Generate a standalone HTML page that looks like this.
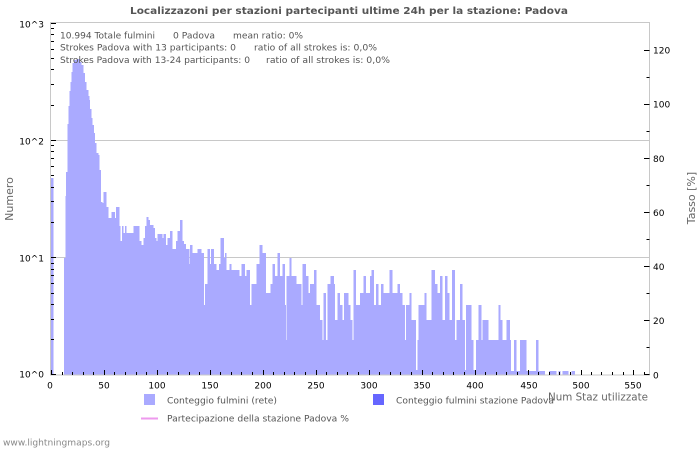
<!DOCTYPE html>
<html><head><meta charset="utf-8"><style>
html,body{margin:0;padding:0;background:#fff;}
svg{display:block;font-family:"DejaVu Sans","Liberation Sans",sans-serif;}
</style></head><body>
<svg width="700" height="450" viewBox="0 0 700 450" xmlns="http://www.w3.org/2000/svg">
<rect width="700" height="450" fill="#fff"/>
<!-- title -->
<text x="130" y="14" font-size="10" font-weight="bold" fill="#555" textLength="438" lengthAdjust="spacingAndGlyphs">Localizzazoni per stazioni partecipanti ultime 24h per la stazione: Padova</text>
<!-- gridlines -->
<line x1="51" y1="140.5" x2="649" y2="140.5" stroke="#c8c8c8" stroke-width="1"/>
<line x1="51" y1="257.5" x2="649" y2="257.5" stroke="#c8c8c8" stroke-width="1"/>
<!-- bars -->
<path fill="#aaaaff" shape-rendering="crispEdges" d="M51,375 V178 H53.3 V375 H64 V258 H65.3 V196 H66 V172 H67.3 V124 H68.7 V106 H69.3 V91 H70.7 V82 H71.7 V72 H72.7 V63 H74 V60 H76.7 V59 H80 V62 H81.7 V65 H83.3 V73 H85 V82 H86.7 V90 H88.3 V96 H89.3 V100 H90 V109 H91.7 V118 H92.7 V125 H94 V133 H95 V143 H96.7 V153 H98.3 V155 H99.3 V170 H101 V202 H102.7 V203 H103.3 V192 H106.7 V207 H108.3 V218 H111.7 V212 H115 V218 H116 V207 H119.3 V226 H120.7 V241 H122 V226 H123.3 V233 H125 V226 H126.7 V233 H133.3 V226 H139.3 V241 H141.7 V245 H143.3 V238 H145 V226 H146.7 V217 H148.3 V220 H150 V225 H153.3 V228 H155 V238 H156.7 V241 H157.3 V234 H162.3 V238 H163.3 V234 H166 V245 H167.3 V238 H170 V231 H172.7 V249 H176 V241 H177.3 V231 H180 V220 H182.7 V241 H184 V244 H186 V249 H189.3 V264 H190 V245 H192.7 V253 H197.7 V249 H201.7 V253 H204 V305 H205 V284 H207.3 V249 H210 V264 H211 V249 H214 V264 H216.7 V270 H219 V264 H220.7 V238 H224 V258 H225 V253 H226.7 V270 H229.3 V264 H231.7 V270 H239.3 V276 H241.7 V264 H245 V276 H246.7 V270 H250 V305 H251.7 V284 H256.7 V264 H259.3 V245 H262.7 V253 H266 V293 H270.7 V284 H272.7 V264 H275 V276 H277.7 V253 H280 V276 H282.3 V264 H285 V305 H286 V340 H286.7 V276 H289.3 V258 H291.7 V276 H296.7 V284 H301.7 V305 H302.7 V264 H306 V276 H308.3 V293 H310 V284 H314 V270 H316.7 V305 H320 V320 H322.3 V340 H323.3 V293 H326 V340 H327.3 V284 H330.7 V276 H334 V284 H335 V320 H337.3 V293 H340 V305 H342.3 V320 H344 V293 H348.7 V305 H350.7 V320 H352.7 V340 H353.3 V270 H356 V305 H360 V293 H363.3 V276 H366 V293 H370 V276 H371.3 V270 H374 V305 H376 V284 H378.7 V305 H381 V284 H383.3 V293 H389.3 V270 H392.7 V293 H397.3 V284 H400 V293 H402.7 V305 H405 V340 H406 V305 H409.3 V293 H411.7 V320 H416 V370 H417.3 V340 H418.3 V305 H424.3 V293 H426.7 V320 H431.7 V270 H435 V284 H437.7 V293 H440 V276 H442.7 V320 H445 V276 H447.3 V293 H449.3 V320 H452 V270 H455 V340 H456.7 V320 H460 V284 H462.7 V320 H465 V370 H466 V305 H471.7 V340 H473.3 V370 H476 V340 H478.3 V305 H481.7 V340 H482.7 V320 H488.3 V340 H498.3 V305 H500.7 V320 H502.7 V340 H506.7 V320 H510 V340 H511 V371 H514 V340 H516.7 V371 H520 V340 H526.7 V371 H536 V340 H538.7 V371 H545 V375 H549 V371 H556.7 V375 H558.3 V371 H560.7 V375 H562.7 V371 H568.3 V375 H571.7 V371 H575 V375 Z"/>
<!-- frame -->
<rect x="50.5" y="22.5" width="599" height="352.5" fill="none" stroke="#c8c8c8" stroke-width="1"/>
<!-- left ticks -->
<path stroke="#000" stroke-width="1" fill="none" d="
M51,23.5h5 M51,140.5h5 M51,257.5h5 M51,374.5h5
M51,28.5h3 M51,34.5h3 M51,41.5h3 M51,49.5h3 M51,58.5h3 M51,69.5h3 M51,84.5h3 M51,105.5h3
M51,145.5h3 M51,151.5h3 M51,158.5h3 M51,166.5h3 M51,175.5h3 M51,187.5h3 M51,201.5h3 M51,222.5h3
M51,263.5h3 M51,269.5h3 M51,275.5h3 M51,283.5h3 M51,293.5h3 M51,304.5h3 M51,319.5h3 M51,339.5h3"/>
<!-- bottom ticks -->
<path stroke="#000" stroke-width="1" fill="none" d="
M51.5,375v-5 M104.5,375v-5 M157.5,375v-5 M210.5,375v-5 M263.5,375v-5 M316.5,375v-5 M369.5,375v-5 M422.5,375v-5 M475.5,375v-5 M528.5,375v-5 M581.5,375v-5 M633.5,375v-5
M62.5,375v-3 M72.5,375v-3 M83.5,375v-3 M93.5,375v-3 M114.5,375v-3 M125.5,375v-3 M136.5,375v-3 M146.5,375v-3
M167.5,375v-3 M178.5,375v-3 M189.5,375v-3 M199.5,375v-3 M220.5,375v-3 M231.5,375v-3 M241.5,375v-3 M252.5,375v-3
M273.5,375v-3 M284.5,375v-3 M294.5,375v-3 M305.5,375v-3 M326.5,375v-3 M337.5,375v-3 M347.5,375v-3 M358.5,375v-3
M379.5,375v-3 M390.5,375v-3 M400.5,375v-3 M411.5,375v-3 M432.5,375v-3 M443.5,375v-3 M453.5,375v-3 M464.5,375v-3
M485.5,375v-3 M496.5,375v-3 M506.5,375v-3 M517.5,375v-3 M538.5,375v-3 M549.5,375v-3 M559.5,375v-3 M570.5,375v-3
M591.5,375v-3 M601.5,375v-3 M612.5,375v-3 M623.5,375v-3 M644.5,375v-3"/>
<!-- right ticks -->
<path stroke="#000" stroke-width="1" fill="none" d="
M644,374.5h5.5 M644,320.5h5.5 M644,266.5h5.5 M644,212.5h5.5 M644,158.5h5.5 M644,104.5h5.5 M644,50.5h5.5
M646.5,347.5h3 M646.5,293.5h3 M646.5,239.5h3 M646.5,185.5h3 M646.5,131.5h3 M646.5,77.5h3"/>
<!-- left labels -->
<g font-size="9" fill="#000" text-anchor="end">
<text x="44" y="27.3">10^3</text>
<text x="44" y="144.5">10^2</text>
<text x="44" y="261.7">10^1</text>
<text x="44" y="377.5">10^0</text>
</g>
<!-- bottom labels -->
<g font-size="9" fill="#000" text-anchor="middle">
<text x="50" y="388.3">0</text>
<text x="104" y="388.3">50</text>
<text x="157" y="388.3">100</text>
<text x="210" y="388.3">150</text>
<text x="263" y="388.3">200</text>
<text x="316" y="388.3">250</text>
<text x="369" y="388.3">300</text>
<text x="422" y="388.3">350</text>
<text x="475" y="388.3">400</text>
<text x="529" y="388.3">450</text>
<text x="581" y="388.3">500</text>
<text x="633" y="388.3">550</text>
</g>
<!-- right labels -->
<g font-size="9" fill="#000">
<text x="653" y="378.3">0</text>
<text x="653" y="324">20</text>
<text x="653" y="270">40</text>
<text x="653" y="216">60</text>
<text x="653" y="162">80</text>
<text x="653" y="107.5">100</text>
<text x="653" y="53.5">120</text>
</g>
<!-- axis titles -->
<text transform="translate(13,199) rotate(-90)" font-size="11" fill="#666" text-anchor="middle">Numero</text>
<text transform="translate(695,198) rotate(-90)" font-size="11" fill="#666" text-anchor="middle">Tasso [%]</text>
<text x="548" y="400.5" font-size="10.5" fill="#666" textLength="100" lengthAdjust="spacingAndGlyphs">Num Staz utilizzate</text>
<!-- info text -->
<g font-size="9" fill="#555">
<text x="60" y="38.3" textLength="95" lengthAdjust="spacingAndGlyphs">10.994 Totale fulmini</text>
<text x="173" y="38.3" textLength="42" lengthAdjust="spacingAndGlyphs">0 Padova</text>
<text x="233" y="38.3" textLength="70" lengthAdjust="spacingAndGlyphs">mean ratio: 0%</text>
<text x="60" y="50.7" textLength="176" lengthAdjust="spacingAndGlyphs">Strokes Padova with 13 participants: 0</text>
<text x="254" y="50.7" textLength="123" lengthAdjust="spacingAndGlyphs">ratio of all strokes is: 0,0%</text>
<text x="60" y="63" textLength="190" lengthAdjust="spacingAndGlyphs">Strokes Padova with 13-24 participants: 0</text>
<text x="266" y="63" textLength="124" lengthAdjust="spacingAndGlyphs">ratio of all strokes is: 0,0%</text>
</g>
<!-- legend -->
<rect x="144" y="394" width="11" height="11" fill="#aaaaff"/>
<rect x="373" y="394" width="11" height="11" fill="#6666ff"/>
<line x1="141" y1="418.5" x2="158" y2="418.5" stroke="#ee99ee" stroke-width="2"/>
<g font-size="9" fill="#555">
<text x="167" y="403.5" textLength="110" lengthAdjust="spacingAndGlyphs">Conteggio fulmini (rete)</text>
<text x="396" y="403.5" textLength="158" lengthAdjust="spacingAndGlyphs">Conteggio fulmini stazione Padova</text>
<text x="167" y="421.5" textLength="182" lengthAdjust="spacingAndGlyphs">Partecipazione della stazione Padova %</text>
</g>
<text x="3" y="445.5" font-size="9" fill="#888" textLength="107" lengthAdjust="spacingAndGlyphs">www.lightningmaps.org</text>
</svg>
</body></html>
